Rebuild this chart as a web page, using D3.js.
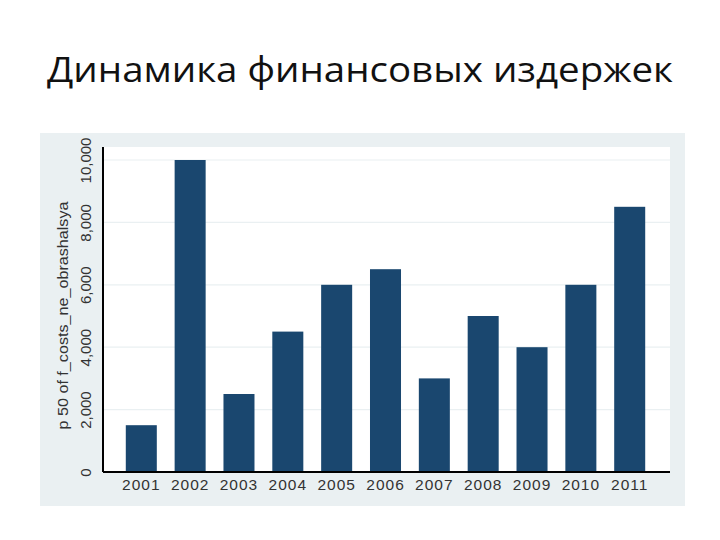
<!DOCTYPE html><html><head><meta charset="utf-8"><script src="https://cdn.jsdelivr.net/npm/d3@7"></script>
<style>body{margin:0;background:#fff}</style></head><body><svg width="720" height="540"></svg>
<script>
const years=["2001","2002","2003","2004","2005","2006","2007","2008","2009","2010","2011"];
const values=[1500,10000,2500,4500,6000,6500,3000,5000,4000,6000,8500];
const yTicks=[0,2000,4000,6000,8000,10000];
const title="Динамика финансовых издержек";
const yTitle="p 50 of f_costs_ne_obrashalsya";
const svg=d3.select("svg");
svg.append("text").attr("x",360).attr("y",82).attr("text-anchor","middle").attr("font-family","Open Sans, sans-serif").attr("font-size",34).attr("fill","#111").attr("textLength",626).attr("lengthAdjust","spacingAndGlyphs").text(title);
svg.append("rect").attr("x",40).attr("y",133).attr("width",645).attr("height",373).attr("fill","#eaf0f2");
const L=103,R=670,T=147,B=472;
svg.append("rect").attr("x",L).attr("y",T).attr("width",R-L).attr("height",B-T).attr("fill","#fff");
const y=d3.scaleLinear().domain([0,10000]).range([B,160]);
const x=d3.scaleBand().domain(years).range([117,654]).paddingInner(0.365).paddingOuter(0.18);
svg.append("g").selectAll("line").data(yTicks.slice(1)).join("line").attr("x1",L).attr("x2",R).attr("y1",d=>y(d)).attr("y2",d=>y(d)).attr("stroke","#eaf0f2").attr("stroke-width",1.2);
svg.append("g").selectAll("rect").data(values).join("rect").attr("x",(d,i)=>x(years[i])).attr("width",x.bandwidth()).attr("y",d=>y(d)).attr("height",d=>B-y(d)).attr("fill","#1a476f");
const ya=svg.append("g").attr("transform",`translate(${L},0)`).call(d3.axisLeft(y).tickValues(yTicks).tickFormat(d3.format(",")).tickSize(0));
ya.select(".domain").attr("stroke","#000").attr("stroke-width",2).attr("d",`M0,${T}V${B}`);
ya.selectAll("text").attr("text-anchor","middle").attr("x",0).attr("y",0).attr("dy",null).attr("transform","translate(-12,0) rotate(-90)").attr("font-size",15).attr("font-family","Liberation Sans, Arial").attr("fill","#333");
const xa=svg.append("g").attr("transform",`translate(0,${B})`).call(d3.axisBottom(x).tickSize(0).tickPadding(7));
xa.select(".domain").attr("stroke","#000").attr("stroke-width",2).attr("d",`M${L},0H${R}`);
xa.selectAll("text").attr("font-size",15.5).attr("letter-spacing",1).attr("font-family","Liberation Sans, Arial").attr("fill","#333");
svg.append("text").attr("transform",`translate(68,${(T+B)/2+6}) rotate(-90)`).attr("text-anchor","middle").attr("font-size",14).attr("textLength",228).attr("lengthAdjust","spacingAndGlyphs").attr("font-family","Liberation Sans, Arial").attr("fill","#333").text(yTitle);
</script></body></html>
